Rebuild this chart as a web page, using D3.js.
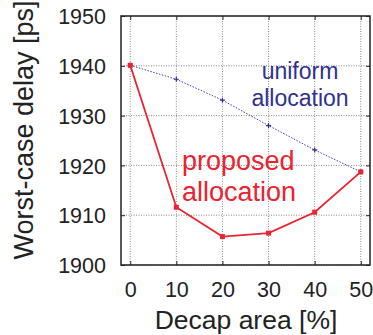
<!DOCTYPE html>
<html><head><meta charset="utf-8">
<script src="https://cdn.jsdelivr.net/npm/d3@7"></script>
<style>body{margin:0;background:#fff}svg{display:block}text{font-family:"Liberation Sans",Arial,sans-serif}</style>
</head><body>
<svg id="c" width="373" height="335"></svg>
<script>
const decap = [0, 10, 20, 30, 40, 50];
const proposed = [1940.1, 1911.6, 1905.7, 1906.4, 1910.6, 1918.7];
const uniform = [1940.1, 1937.3, 1933.1, 1928.0, 1923.1, 1918.7];
const xTicks = [0, 10, 20, 30, 40, 50];
const yTicks = [1900, 1910, 1920, 1930, 1940, 1950];

const svg = d3.select("#c");
const L = 121, R = 370, T = 16, B = 265;
const x = d3.scaleLinear().domain([-2, 52]).range([L, R]);
const y = d3.scaleLinear().domain([1900, 1950]).range([B, T]);

// grid
const g = svg.append("g");
g.selectAll(".gx").data(xTicks).join("line")
  .attr("x1", d => x(d)).attr("x2", d => x(d)).attr("y1", T).attr("y2", B)
  .attr("stroke", "#888").attr("stroke-width", 1).attr("stroke-dasharray", "1,1.5");
g.selectAll(".gy").data(yTicks).join("line")
  .attr("y1", d => y(d)).attr("y2", d => y(d)).attr("x1", L).attr("x2", R)
  .attr("stroke", "#888").attr("stroke-width", 1).attr("stroke-dasharray", "1,1.5");

// axes (ticks inside)
const fmt = d3.format("d");
const xa = svg.append("g").attr("transform", `translate(0,${B})`)
  .call(d3.axisBottom(x).tickValues(xTicks).tickSize(-4).tickFormat(fmt));
const xaTop = svg.append("g").attr("transform", `translate(0,${T})`)
  .call(d3.axisTop(x).tickValues(xTicks).tickSize(-4).tickFormat(""));
const ya = svg.append("g").attr("transform", `translate(${L},0)`)
  .call(d3.axisLeft(y).tickValues(yTicks).tickSize(-4).tickFormat(fmt));
const yaR = svg.append("g").attr("transform", `translate(${R},0)`)
  .call(d3.axisRight(y).tickValues(yTicks).tickSize(-4).tickFormat(""));
[xa, xaTop, ya, yaR].forEach(a => {
  a.select(".domain").remove();
  a.selectAll("line").attr("stroke", "#222");
  a.selectAll("text").attr("font-size", 21.5).attr("fill", "#222")
    .style("font-family", '"Liberation Sans",Arial,sans-serif');
});
xa.selectAll("text").attr("dy", null).attr("y", 32);
ya.selectAll("text").attr("x", -15).attr("dy", "0.36em");
svg.append("rect").attr("x", L).attr("y", T).attr("width", R - L).attr("height", B - T)
  .attr("fill", "none").attr("stroke", "#222").attr("stroke-width", 1.5);

// uniform
const line = (vals) => d3.line().x((d, i) => x(decap[i])).y(d => y(d))(vals);
svg.append("path").attr("d", line(uniform)).attr("fill", "none")
  .attr("stroke", "#3a3fa8").attr("stroke-width", 1).attr("stroke-dasharray", "1.5,1.5");
svg.selectAll(".um").data(uniform).join("path")
  .attr("d", (d, i) => { const cx = x(decap[i]), cy = y(d); return `M${cx-2.5},${cy}H${cx+2.5}M${cx},${cy-2.5}V${cy+2.5}`; })
  .attr("stroke", "#2e3192").attr("stroke-width", 1.2);

// proposed
svg.append("path").attr("d", line(proposed)).attr("fill", "none")
  .attr("stroke", "#ec2330").attr("stroke-width", 1.8);
svg.selectAll(".pm").data(proposed).join("rect")
  .attr("x", (d, i) => x(decap[i]) - 2.5).attr("y", d => y(d) - 2.5)
  .attr("width", 5).attr("height", 5).attr("fill", "#ec2330");

// annotations
svg.append("text").attr("x", 300).attr("y", 79).attr("text-anchor", "middle")
  .attr("font-size", 23).attr("fill", "#2e3192").text("uniform");
svg.append("text").attr("x", 300).attr("y", 106).attr("text-anchor", "middle")
  .attr("font-size", 23).attr("fill", "#2e3192").text("allocation");
svg.append("text").attr("x", 182).attr("y", 170)
  .attr("font-size", 27).attr("fill", "#ec2330").text("proposed");
svg.append("text").attr("x", 182).attr("y", 201)
  .attr("font-size", 27).attr("fill", "#ec2330").text("allocation");

// axis titles
svg.append("text").attr("x", 246).attr("y", 329).attr("text-anchor", "middle")
  .attr("font-size", 26.5).attr("fill", "#222").text("Decap area [%]");
svg.append("text").attr("transform", "translate(33,130) rotate(-90)").attr("text-anchor", "middle")
  .attr("font-size", 27).attr("fill", "#222").text("Worst-case delay [ps]");
</script>
</body></html>
